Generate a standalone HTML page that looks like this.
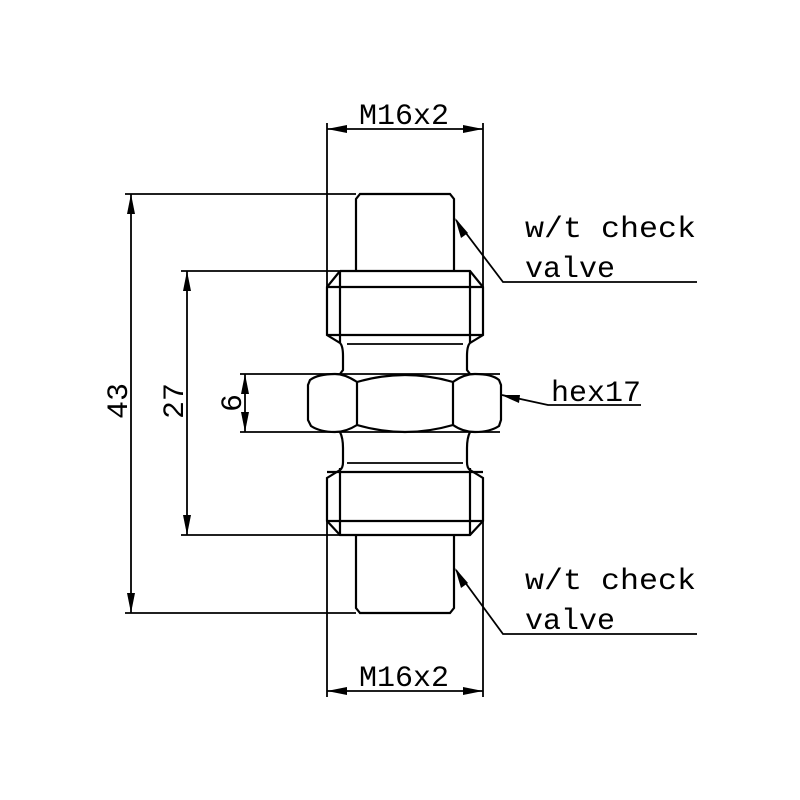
<!DOCTYPE html>
<html><head><style>
html,body{margin:0;padding:0;background:#fff;}
svg{display:block}
text{font-family:"Liberation Mono",monospace;fill:#000;}
</style></head><body>
<svg width="800" height="800" viewBox="0 0 800 800" xmlns="http://www.w3.org/2000/svg">
<g fill="none" stroke="#000" stroke-width="2.2">
<path d="M356,271 L356,199 L360,194 L450,194 L454,199 L454,271"/>
<path d="M340,271 L470,271 L483,287 L483,335 L470,343 Q467,346 467,356 L467,370 L470,374"/>
<path d="M340,271 L327,287 L327,335 L340,343 Q343,346 343,356 L343,370 L340,374"/>
<line x1="327" y1="287" x2="483" y2="287"/>
<line x1="327" y1="335" x2="483" y2="335"/>
<line x1="340" y1="271" x2="340" y2="343"/>
<line x1="470" y1="271" x2="470" y2="343"/>
<line x1="347" y1="344" x2="463" y2="344" stroke-width="1.8"/>
<line x1="240" y1="374" x2="500" y2="374" stroke-width="1.8"/>
<line x1="240" y1="432" x2="500" y2="432" stroke-width="1.8"/>
<path d="M357,382 Q345,374 335,374 Q318,374 310,380 L308,385 L308,420 L311,426 Q320,432 335,432 Q346,432 357,425 Z"/>
<path d="M357,382 Q405,368 453,382 L453,425 Q405,439 357,425"/>
<path d="M453,382 Q464,374 475,374 Q492,374 499,380 L501,385 L501,420 L499,426 Q490,432 475,432 Q463,432 453,425"/>
<path d="M340,432 Q343,438 343,448 L343,462 Q343,468 340,470 L327,478 L327,521 L340,535 L470,535 L483,521 L483,478 L470,470 Q467,468 467,462 L467,448 Q467,438 470,432"/>
<line x1="347" y1="463" x2="463" y2="463" stroke-width="1.8"/>
<line x1="327" y1="472" x2="483" y2="472"/>
<line x1="327" y1="521" x2="483" y2="521"/>
<line x1="340" y1="468" x2="340" y2="535"/>
<line x1="470" y1="468" x2="470" y2="535"/>
<path d="M356,535 L356,608 L360,613 L450,613 L454,608 L454,535"/>
</g>
<g fill="none" stroke="#000" stroke-width="1.8">
<line x1="327" y1="123" x2="327" y2="290"/>
<line x1="483" y1="123" x2="483" y2="290"/>
<line x1="327" y1="129" x2="483" y2="129"/>
<line x1="327" y1="520" x2="327" y2="697"/>
<line x1="483" y1="520" x2="483" y2="697"/>
<line x1="327" y1="691" x2="483" y2="691"/>
<line x1="125" y1="194" x2="356" y2="194"/>
<line x1="125" y1="613" x2="356" y2="613"/>
<line x1="131" y1="194" x2="131" y2="613"/>
<line x1="181" y1="271" x2="340" y2="271"/>
<line x1="181" y1="535" x2="340" y2="535"/>
<line x1="187" y1="271" x2="187" y2="535"/>
<line x1="245" y1="374" x2="245" y2="432"/>
<polyline points="456,220 503,282 697,282"/>
<polyline points="456,570 503,634 697,634"/>
<polyline points="502,395 548,405 641,405"/>
</g>
<g fill="#000">
<polygon points="327,129 347,125 347,133"/>
<polygon points="483,129 463,125 463,133"/>
<polygon points="327,691 347,687 347,695"/>
<polygon points="483,691 463,687 463,695"/>
<polygon points="131,194 127,214 135,214"/>
<polygon points="131,613 127,593 135,593"/>
<polygon points="187,271 183,291 191,291"/>
<polygon points="187,535 183,515 191,515"/>
<polygon points="245,374 241,394 249,394"/>
<polygon points="245,432 241,412 249,412"/>
<polygon points="455,218 461,238 468,233"/>
<polygon points="455,568 461,588 468,583"/>
<polygon points="501,395 520,395 519,403"/>
</g>
<g font-size="30">
<text x="404" y="124" text-anchor="middle">M16x2</text>
<text x="404" y="686" text-anchor="middle">M16x2</text>
<text x="525" y="237" textLength="171" lengthAdjust="spacingAndGlyphs">w/t check</text>
<text x="525" y="277">valve</text>
<text x="525" y="589" textLength="171" lengthAdjust="spacingAndGlyphs">w/t check</text>
<text x="525" y="629">valve</text>
<text x="551" y="401">hex17</text>
<text transform="translate(127,401) rotate(-90)" text-anchor="middle">43</text>
<text transform="translate(183,401) rotate(-90)" text-anchor="middle">27</text>
<text transform="translate(241,403) rotate(-90)" text-anchor="middle">6</text>
</g>
</svg>
</body></html>
